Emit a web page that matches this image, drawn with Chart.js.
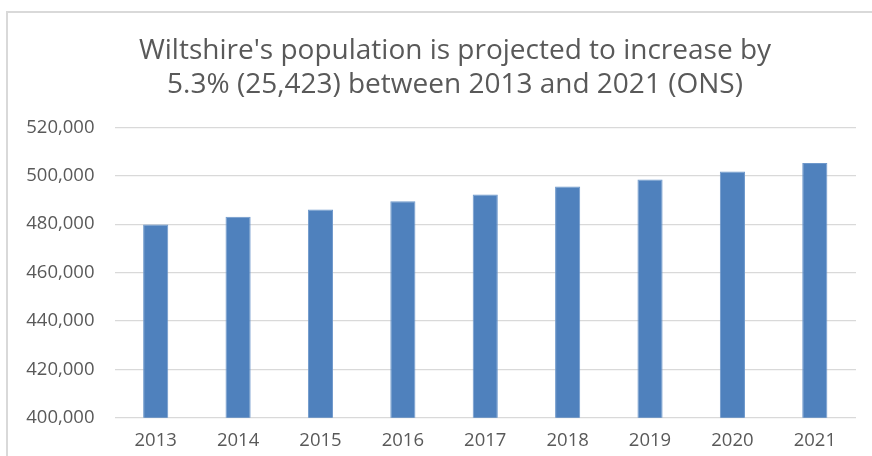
<!DOCTYPE html>
<html>
<head>
<meta charset="utf-8">
<script src="https://cdn.jsdelivr.net/npm/chart.js@4"></script>
<style>
  html, body { margin: 0; padding: 0; background: #fff; overflow: hidden; width: 872px; height: 456px; }
  #frame { position: absolute; left: 6px; top: 11px; width: 900px; height: 460px; border-left: 2px solid #d9d9d9; border-top: 2px solid #d9d9d9; }
  #wrap { position: absolute; left: 0; top: 0; width: 910px; height: 456px; }
</style>
</head>
<body>
<div id="frame"></div>
<div id="wrap"><canvas id="c"></canvas></div>
<script>
const years = ['2013', '2014', '2015', '2016', '2017', '2018', '2019', '2020', '2021'];
const population = [479800, 483000, 486000, 489400, 492200, 495500, 498400, 501700, 505200];
const titleLines = ["Wiltshire's population is projected to increase by", "5.3% (25,423) between 2013 and 2021 (ONS)"];
const yMin = 400000, yMax = 520000, yStep = 20000;

const FONT = '"Open Sans", Lato, sans-serif';
const TEXT = '#595959';

new Chart(document.getElementById('c'), {
  type: 'bar',
  data: {
    labels: years,
    datasets: [{
      data: population,
      backgroundColor: '#4f81bd',
      borderColor: '#6e98cb',
      borderWidth: 1,
      categoryPercentage: 1,
      barPercentage: 0.305
    }]
  },
  options: {
    responsive: true,
    maintainAspectRatio: false,
    animation: false,
    layout: { padding: { left: 0, right: 0, top: 0, bottom: 0 } },
    plugins: {
      legend: { display: false },
      tooltip: { enabled: false },
      title: {
        display: true,
        text: titleLines,
        color: TEXT,
        font: { family: FONT, size: 28, weight: 'normal', lineHeight: '34px' },
        padding: { top: 34, bottom: 25.3 }
      }
    },
    scales: {
      x: {
        grid: { display: false, drawTicks: false },
        border: { display: false },
        ticks: { color: TEXT, font: { family: FONT, size: 18.5 }, padding: 11.5, maxRotation: 0 },
        afterFit: s => { s.height = 38.3; }
      },
      y: {
        min: yMin, max: yMax,
        grid: { color: '#d9d9d9', lineWidth: 1.2, drawTicks: false },
        border: { display: false },
        ticks: {
          stepSize: yStep,
          color: TEXT,
          font: { family: FONT, size: 18.5 },
          padding: 20,
          callback: v => v.toLocaleString('en-GB')
        },
        afterFit: s => { s.width = 114.5; }
      },
      yR: {
        position: 'right',
        display: true,
        grid: { display: false },
        border: { display: false },
        ticks: { display: false },
        afterFit: s => { s.width = 54; }
      }
    }
  }
});
</script>
</body>
</html>
